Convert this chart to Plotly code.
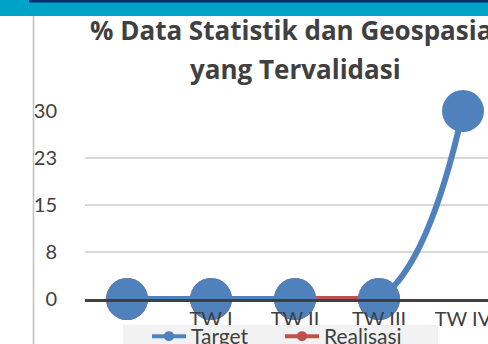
import plotly.graph_objects as go

# Quarterly categories and series values
categories = ["", "TW I", "TW II", "TW III", "TW IV"]
target = [0, 0, 0, 0, 30]
realisasi = [0, 0, 0, 0]
y_tickvals = [0, 7.5, 15, 22.5, 30]
y_ticktext = ["0", "8", "15", "23", "30"]

W, H = 488, 344
ML, MR, MT, MB = 85, 0, 111, 45
PW, PH = W - ML - MR, H - MT - MB

BLUE = "#4F81BD"
RED = "#C0504D"
TEXT = "#404040"
FONT = "Lato"
TITLE_FONT = "Open Sans"


def px(x):
    return (x - ML) / PW


def py(y):
    return (H - MB - y) / PH


xs = list(range(len(categories)))

fig = go.Figure()
fig.add_trace(go.Scatter(
    x=xs[:len(realisasi)], y=realisasi, mode="lines+markers", name="Realisasi",
    line=dict(color=RED, width=6, shape="spline", smoothing=1.3),
    marker=dict(color=RED, size=42), showlegend=False, cliponaxis=False,
))
fig.add_trace(go.Scatter(
    x=xs, y=target, mode="lines+markers", name="Target",
    line=dict(color=BLUE, width=6, shape="spline", smoothing=1.3),
    marker=dict(color=BLUE, size=42), showlegend=False, cliponaxis=False,
))
# legend entries with compact symbols
for name, col in [("Target", BLUE), ("Realisasi", RED)]:
    fig.add_trace(go.Scatter(
        x=[None], y=[None], mode="lines+markers", name=name,
        line=dict(color=col, width=4), marker=dict(color=col, size=10),
    ))

shapes = [
    # header bands
    dict(type="rect", xref="paper", yref="paper", x0=px(0), x1=px(W), y0=py(16), y1=py(0),
         fillcolor="#00A3C8", line_width=0, layer="below"),
    dict(type="rect", xref="paper", yref="paper", x0=px(29), x1=px(W), y0=py(2.5), y1=py(0),
         fillcolor="#0D2A6B", line_width=0, layer="below"),
    # left border
    dict(type="line", xref="paper", yref="paper", x0=px(33.5), x1=px(33.5), y0=py(16), y1=py(H),
         line=dict(color="#BFBFBF", width=1.5)),
    # legend panel
    dict(type="rect", xref="paper", yref="paper", x0=px(123), x1=px(438), y0=py(H + 5), y1=py(325),
         fillcolor="#F2F2F2", line_width=0, layer="above"),
]

annotations = [
    dict(text="<b>% Data Statistik dan Geospasial</b>", xref="paper", yref="paper",
         x=px(295), y=py(30), xanchor="center", yanchor="middle", showarrow=False,
         font=dict(family=TITLE_FONT, size=26, color=TEXT)),
    dict(text="<b>yang Tervalidasi</b>", xref="paper", yref="paper",
         x=px(295), y=py(69), xanchor="center", yanchor="middle", showarrow=False,
         font=dict(family=TITLE_FONT, size=26, color=TEXT)),
]

fig.update_layout(
    width=W, height=H,
    margin=dict(l=ML, r=MR, t=MT, b=MB, pad=0, autoexpand=False),
    paper_bgcolor="white", plot_bgcolor="white",
    font=dict(family=FONT, color=TEXT),
    showlegend=True,
    legend=dict(orientation="h", x=px(147), y=py(316), xanchor="left", yanchor="top",
                bgcolor="rgba(0,0,0,0)", font=dict(size=21, color=TEXT),
                itemwidth=34, entrywidth=84, entrywidthmode="pixels", traceorder="normal"),
    shapes=shapes, annotations=annotations,
    xaxis=dict(range=[-0.5, -0.5 + PW / 84], tickmode="array", tickvals=xs, ticktext=categories,
               showgrid=False, zeroline=False, showline=True, linecolor=TEXT, linewidth=3,
               ticks="", tickfont=dict(size=20, color=TEXT), ticklabelstandoff=0,
               ticklabeloverflow="allow"),
    yaxis=dict(range=[0, 30], tickmode="array", tickvals=y_tickvals, ticktext=y_ticktext,
               showgrid=True, gridcolor="#D9D9D9", gridwidth=2, zeroline=False, showline=False,
               ticks="", tickfont=dict(size=20, color=TEXT), ticklabelstandoff=27),
)

fig.write_html("out.html")
